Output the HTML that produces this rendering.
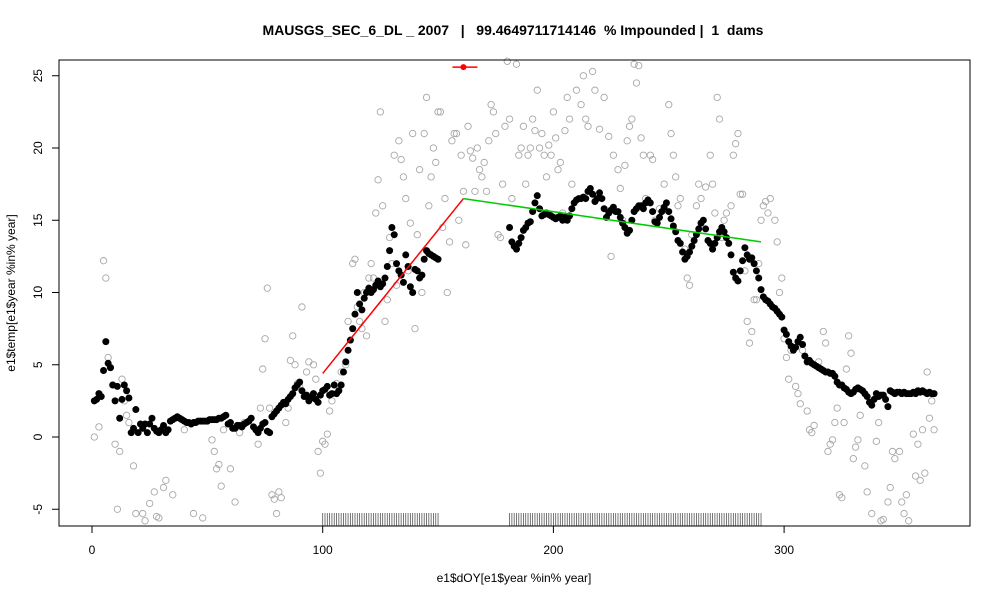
<!DOCTYPE html>
<html><head><meta charset="utf-8"><style>
body{margin:0;background:#fff;}
svg text{font-family:"Liberation Sans",sans-serif;}
</style></head><body>
<svg id="chart" width="1000" height="600" xmlns="http://www.w3.org/2000/svg">
<text x="513" y="35" text-anchor="middle" font-size="14" font-weight="bold" style="white-space:pre">MAUSGS_SEC_6_DL _ 2007   |   99.4649711714146  % Impounded |  1  dams</text>
<text x="514" y="582" text-anchor="middle" font-size="12">e1$dOY[e1$year %in% year]</text>
<text transform="translate(15,293) rotate(-90)" text-anchor="middle" font-size="12">e1$temp[e1$year %in% year]</text>
<g id="grey"></g>
<g id="rug"></g>
<g id="black"></g>
<g id="lines"></g>
<g id="axes"></g>
<rect x="59" y="60" width="911" height="466" fill="none" stroke="#000"/>
</svg>
<script>
const xTicks=[0,100,200,300];
const yTicks=[-5,0,5,10,15,20,25];
const blackStart1=1;
const black1=[2.5,2.6,3.0,2.8,4.6,6.6,5.1,4.8,3.6,2.5,
3.5,1.3,2.6,3.6,3.2,2.7,0.3,0.6,1.9,0.3,
0.9,0.6,0.9,0.3,0.9,1.3,0.6,0.4,0.3,0.5,
0.8,0.3,0.5,1.1,1.2,1.3,1.4,1.3,1.2,1.1,
1.0,1.0,0.9,1.0,1.0,1.1,1.1,1.1,1.1,1.1,
1.2,1.2,1.2,1.2,1.3,1.3,1.4,1.5,0.9,1.0,
0.6,0.6,0.8,0.8,0.7,0.9,1.0,1.1,1.3,0.7,
0.5,0.3,0.6,0.9,1.0,0.4,0.3,1.4,1.6,1.8,
2.0,2.2,2.4,2.3,2.6,2.8,3.0,3.4,3.6,3.8,
3.2,2.8,2.9,2.5,2.7,3.0,2.6,2.4,2.9,3.2,
3.3,3.5,2.9,3.0,3.6,3.0,3.2,3.6,4.5,5.2,
6.0,6.7,7.5,8.5,10.0,9.2,8.8,9.6,10.0,10.3,
10.0,10.2,10.5,10.8,10.4,10.6,11.0,11.8,12.9,14.5,
14.0,12.0,11.5,11.2,10.7,12.6,11.8,10.4,10.0,11.6,
11.5,11.0,11.2,12.3,12.9,12.7,12.6,12.5,12.4,12.3];
const blackStart2=181;
const black2=[14.5,13.5,13.2,13.0,13.4,13.8,14.3,14.5,14.8,14.9,
15.6,16.2,16.7,15.8,15.3,15.4,15.5,15.4,15.3,15.2,
15.1,15.2,15.3,15.0,15.2,15.0,15.3,15.8,16.2,16.4,
16.5,16.5,16.6,16.5,17.0,17.2,16.8,16.3,16.5,16.9,
16.5,15.8,15.2,15.5,15.7,15.9,15.6,15.6,15.2,14.8,
14.5,14.1,14.3,15.0,15.6,15.8,16.0,16.0,15.8,16.2,
16.4,16.2,15.6,14.9,14.8,15.2,15.6,15.9,16.2,15.6,
15.1,14.6,14.2,13.6,13.4,12.8,12.3,12.5,12.8,13.2,
13.6,14.0,14.4,14.8,15.0,14.4,13.6,13.4,13.0,13.4,
13.8,14.2,14.5,14.2,13.8,13.4,12.6,11.4,11.0,10.8,
11.5,12.2,13.1,12.6,12.3,12.4,12.0,11.5,11.0,10.2,
9.7,9.5,9.4,9.2,9.0,8.9,8.7,8.5,8.3,7.4,
7.1,6.6,6.3,6.0,6.2,6.6,6.9,6.4,5.6,5.2,
5.3,5.1,5.0,4.9,4.8,4.7,4.6,4.5,4.5,4.4,
4.4,4.2,3.8,3.6,3.6,3.4,3.3,3.1,3.0,3.1,
3.3,3.4,3.3,3.2,3.0,2.8,2.4,2.2,2.6,3.0,
2.8,2.9,2.9,2.6,2.1,3.2,3.1,3.0,3.1,3.1,
3.0,3.1,3.0,3.0,3.0,3.1,3.0,3.2,3.1,3.2,
3.1,3.0,3.1,3.0,3.0];
const greyDays=[1,3,5,6,7,8,9,10,11,12,13,14,15,16,18,19,22,23,25,27,28,29,31,32,35,40,44,48,52,53,54,55,56,57,58,60,62,63,64,66,72,73,74,75,76,77,78,79,80,81,82,84,85,86,87,88,89,90,91,93,94,96,97,98,99,100,101,102,103,104,106,108,110,111,113,114,115,116,117,118,119,120,121,122,123,124,125,126,127,128,129,130,131,132,133,134,135,136,137,138,139,140,141,142,143,144,145,146,147,148,149,150,151,152,153,154,155,156,157,158,159,160,161,162,163,164,165,166,167,168,169,170,171,172,173,174,175,176,177,178,179,180,181,182,184,185,186,187,188,189,190,191,192,193,194,195,196,197,198,199,200,201,202,203,204,205,206,207,208,210,212,213,214,215,217,218,220,222,224,225,226,228,229,230,231,232,233,234,235,236,237,238,239,240,242,243,244,246,248,250,251,252,253,254,255,257,258,259,260,262,263,264,266,268,269,270,271,272,273,274,275,277,278,279,280,281,282,283,284,285,286,287,288,289,290,291,292,293,294,296,297,298,299,300,301,302,303,305,306,307,308,310,311,312,313,315,316,317,318,319,320,321,322,323,324,325,326,327,328,329,330,331,332,333,335,336,338,340,341,342,343,345,346,347,348,350,351,352,353,354,356,357,358,359,360,361,362,363,364,365];
const greyVals=[0,0.7,12.2,11,5.5,4.8,3.6,-0.5,-5,-1,4,2.5,1.5,1,-2,-5.3,-5.3,-5.8,-4.6,-3.8,-5.5,-5.6,-3.5,-3,-4,0.5,-5.3,-5.6,-0.2,-1,-2.2,-1.9,-3.4,0.5,1.5,-2.2,-4.5,0.8,0.3,1,-0.5,2,4.7,6.8,10.3,2,-4,-4.3,-5.3,-3.8,-4.2,1,2,5.3,7,5,3.7,3.5,9,4.5,5.2,5,4,-1,-2.5,-0.3,-0.5,0.2,1.8,2.5,3.7,4.5,5,8,12,12.3,9,8,7.5,10,7,11,12,11,15.5,17.8,22.5,16,8,9.5,13.8,12,19.5,10.5,20.5,19.2,18,16.5,11.5,14.8,21,7.5,14,18.5,10,21,23.5,16,18,20,19,22.5,22.5,14.5,16.5,10,13.5,20.5,21,21,15,19.5,17,13.3,21.5,19.8,19.3,17,20,18.5,18,19,17,20.5,23,22.5,21,14,13.8,17.5,21.5,26,22,16.5,25.8,19.5,20,21.5,17.5,19.5,20,22,21.2,24,20,21,19.5,18,20.2,19.5,22.5,20.7,18.5,19,15.5,21.2,23.5,22,17.5,24,23,25,22,21.5,25.3,24,21.3,23.5,20.8,12.5,19.5,18.5,17.2,15,18.8,20.5,21.5,22,25.8,24.5,25.7,20.7,19.5,16.5,19.5,19.2,15,15.8,17.5,23,21,19.5,18,16,16.5,13,11,10.5,14,16,17.5,16.5,17.3,19.5,17.5,15.5,23.5,22,13.8,15,15.5,16,19.5,20.3,21,16.8,16.8,11.5,8,6.5,7.3,9.5,9.5,12,15,16,16.3,15.5,16.5,15,13.5,10,11,6.8,5.5,4,6,3.5,3,2.3,6,1.8,0.5,0.3,0.8,5.2,4.7,7.3,6.5,-1,-0.5,-0.2,1,2,-4,-4.2,1,4.7,7,5.8,-1.5,-0.7,-0.2,1.5,-2,-3.8,-5.3,-0.3,1,-5.8,-5.7,-4.5,-3.5,-1,-1.5,-1,-4.5,-5.3,-4,-5.8,0.2,-2.7,-0.5,-3,0.5,-2.5,4.5,1.3,2.5,0.5];
const fitRedX=[100,161];
const fitRedY=[4.4,16.5];
const fitGreenX=[161,290];
const fitGreenY=[16.5,13.5];
const markerX=[161];
const markerY=[25.6];
const rugRanges=[[100,150],[181,290]];

const NS='http://www.w3.org/2000/svg';
const X=d=>92+d*2.307;
const Y=v=>437-v*14.45;
function mk(tag,attrs,parent){const e=document.createElementNS(NS,tag);for(const k in attrs)e.setAttribute(k,attrs[k]);parent.appendChild(e);return e;}
const G=id=>document.getElementById(id);

greyDays.forEach((d,i)=>{
  const c=mk('circle',{cx:X(d),cy:Y(greyVals[i]),r:3.2,fill:'none',stroke:'#a8a8a8','stroke-width':0.9},G('grey'));
  
  
});
rugRanges.forEach(r=>{for(let d=r[0];d<=r[1];d++){
  const l=mk('line',{x1:X(d),x2:X(d),y1:513,y2:526,stroke:'#555','stroke-width':0.8},G('rug'));
  
  
}});
function drawBlack(arr,start){arr.forEach((v,i)=>{
  const c=mk('circle',{cx:X(start+i),cy:Y(v),r:3.5,fill:'#000'},G('black'));
  
  
});}
drawBlack(black1,blackStart1);
drawBlack(black2,blackStart2);
const lr=mk('line',{x1:X(fitRedX[0]),y1:Y(fitRedY[0]),x2:X(fitRedX[1]),y2:Y(fitRedY[1]),stroke:'#f00','stroke-width':1.5},G('lines'));


const lg=mk('line',{x1:X(fitGreenX[0]),y1:Y(fitGreenY[0]),x2:X(fitGreenX[1]),y2:Y(fitGreenY[1]),stroke:'#00cc00','stroke-width':1.5},G('lines'));


const ml=mk('line',{x1:X(markerX[0])-11,x2:X(markerX[0])+14,y1:Y(markerY[0]),y2:Y(markerY[0]),stroke:'#f00','stroke-width':1.5},G('lines'));


const mc=mk('circle',{cx:X(markerX[0]),cy:Y(markerY[0]),r:3,fill:'#f00'},G('lines'));



const ax=G('axes');
xTicks.forEach(t=>{
  const l=mk('line',{x1:X(t),x2:X(t),y1:526,y2:533,stroke:'#000'},ax);
  
  
  const tx=mk('text',{x:X(t),y:554,'text-anchor':'middle','font-size':12},ax);
  tx.textContent=t;
  
  
});
yTicks.forEach(t=>{
  const l=mk('line',{x1:52,x2:59,y1:Y(t),y2:Y(t),stroke:'#000'},ax);
  
  
  const tx=mk('text',{transform:`translate(42,${Y(t)}) rotate(-90)`,'text-anchor':'middle','font-size':12},ax);
  tx.textContent=t;
  
  
});
</script>
</body></html>
